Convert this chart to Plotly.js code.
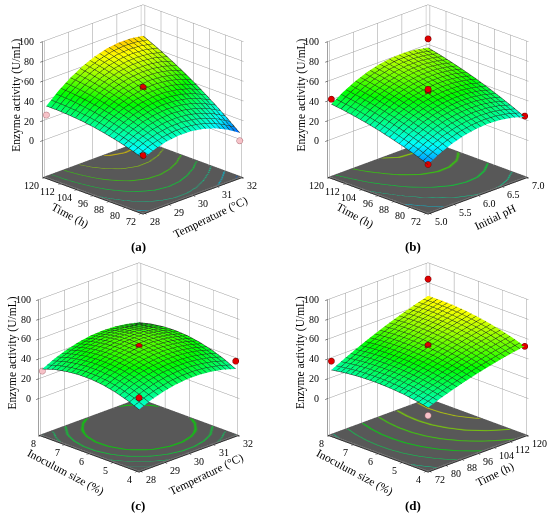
<!DOCTYPE html>
<html><head><meta charset="utf-8">
<script src="https://cdn.plot.ly/plotly-3.0.1.min.js"></script>
<style>html,body{margin:0;padding:0;background:#fff}#chart{width:550px;height:515px}</style>
</head><body><div id="chart"></div>
<script>
// ---------- data ----------
const tempGrid = [28, 28.5, 29, 29.5, 30, 30.5, 31, 31.5, 32];
const timeGrid = [72, 78, 84, 90, 96, 102, 108, 114, 120];
const phGrid = [5, 5.25, 5.5, 5.75, 6, 6.25, 6.5, 6.75, 7];
const inocGrid = [4, 4.5, 5, 5.5, 6, 6.5, 7, 7.5, 8];

// (a) rows = time, cols = temperature
const zA = [
 [18.0, 23.1, 26.5, 27.9, 27.6, 25.4, 21.5, 15.6, 8.0],
 [22.2, 28.0, 32.0, 34.2, 34.6, 33.1, 29.8, 24.7, 17.8],
 [25.8, 32.3, 37.0, 39.9, 41.0, 40.2, 37.6, 33.2, 27.0],
 [28.7, 36.0, 41.4, 45.0, 46.8, 46.7, 44.8, 41.1, 35.6],
 [31.2, 39.1, 45.2, 49.5, 52.0, 52.7, 51.5, 48.5, 43.7],
 [33.0, 41.6, 48.5, 53.5, 56.7, 58.0, 57.5, 55.2, 51.1],
 [34.2, 43.6, 51.1, 56.8, 60.7, 62.8, 63.0, 61.4, 58.0],
 [34.9, 45.0, 53.2, 59.6, 64.2, 67.0, 67.9, 67.0, 64.3],
 [35.0, 45.8, 54.7, 61.8, 67.1, 70.6, 72.2, 72.0, 70.0]
];
// (b) rows = time, cols = pH
const zB = [
 [12.0, 18.8, 24.0, 27.8, 30.0, 30.8, 30.0, 27.8, 24.0],
 [16.6, 23.4, 28.8, 32.7, 35.1, 36.0, 35.4, 33.3, 29.7],
 [20.7, 27.7, 33.3, 37.3, 39.8, 40.8, 40.4, 38.4, 34.9],
 [24.4, 31.6, 37.3, 41.4, 44.1, 45.3, 45.0, 43.1, 39.8],
 [27.8, 35.1, 40.9, 45.2, 48.0, 49.3, 49.1, 47.4, 44.3],
 [30.7, 38.1, 44.1, 48.5, 51.5, 52.9, 52.9, 51.4, 48.3],
 [33.2, 40.8, 46.9, 51.5, 54.6, 56.2, 56.3, 54.8, 51.9],
 [35.3, 43.0, 49.3, 54.0, 57.2, 59.0, 59.2, 57.9, 55.2],
 [37.0, 44.9, 51.3, 56.1, 59.5, 61.4, 61.8, 60.6, 58.0]
];
// (c) rows = inoculum, cols = temperature
const zC = [
 [25.0, 30.1, 33.9, 36.5, 37.8, 37.7, 36.4, 33.9, 30.0],
 [30.1, 35.3, 39.2, 41.9, 43.2, 43.3, 42.1, 39.6, 35.9],
 [33.9, 39.2, 43.3, 46.0, 47.4, 47.6, 46.5, 44.1, 40.4],
 [36.5, 41.9, 46.0, 48.8, 50.4, 50.6, 49.6, 47.3, 43.7],
 [37.8, 43.2, 47.4, 50.4, 52.0, 52.4, 51.4, 49.2, 45.8],
 [37.7, 43.3, 47.6, 50.6, 52.4, 52.8, 52.0, 49.9, 46.5],
 [36.4, 42.1, 46.5, 49.6, 51.4, 52.0, 51.3, 49.2, 45.9],
 [33.9, 39.6, 44.1, 47.3, 49.2, 49.9, 49.2, 47.3, 44.1],
 [30.0, 35.9, 40.4, 43.7, 45.8, 46.5, 45.9, 44.1, 41.0]
];
// (d) rows = inoculum, cols = time
const zD = [
 [27.0, 31.5, 35.6, 39.3, 42.8, 45.8, 48.6, 51.0, 53.0],
 [29.4, 34.1, 38.4, 42.4, 46.0, 49.3, 52.2, 54.8, 57.1],
 [31.3, 36.1, 40.6, 44.8, 48.6, 52.1, 55.3, 58.1, 60.5],
 [32.4, 37.5, 42.2, 46.6, 50.6, 54.3, 57.7, 60.7, 63.3],
 [33.0, 38.3, 43.2, 47.8, 52.0, 55.9, 59.4, 62.6, 65.5],
 [32.9, 38.4, 43.5, 48.3, 52.8, 56.9, 60.6, 64.0, 67.1],
 [32.3, 37.9, 43.3, 48.2, 52.9, 57.2, 61.1, 64.7, 68.0],
 [30.9, 36.8, 42.4, 47.5, 52.4, 56.9, 61.0, 64.9, 68.3],
 [29.0, 35.1, 40.8, 46.2, 51.3, 56.0, 60.3, 64.3, 68.0]
];

// design points: [x, y, z]
const ptsA_red  = [[28, 72, 21], [30, 96, 52], [30, 96, 54]];
const ptsA_pink = [[28, 120, 26], [32, 72, 0]];
const ptsB_red  = [[5, 72, 12], [5, 120, 42], [7, 72, 25], [7, 120, 67], [6, 96, 50], [6, 96, 52]];
const ptsB_pink = [];
const ptsC_red  = [[28, 4, 37], [32, 4, 38], [30, 6, 51], [30, 6, 53]];
const ptsC_pink = [[28, 8, 28]];
const ptsD_red  = [[72, 8, 38], [120, 4, 53], [120, 8, 85], [96, 6, 52], [96, 6, 54]];
const ptsD_pink = [[72, 4, 19]];

const tempTicks = [28, 29, 30, 31, 32];
const timeTicks = [72, 80, 88, 96, 104, 112, 120];
const phTicks = [5, 5.5, 6, 6.5, 7];
const phTickText = ['5.0', '5.5', '6.0', '6.5', '7.0'];
const inocTicks = [4, 5, 6, 7, 8];
const zTicks = [0, 20, 40, 60, 80, 100];
const levelsA = [10, 20, 30, 40, 50, 60, 70];
const levelsB = [20, 30, 40, 50, 60];
const levelsC = [30, 35, 40, 45];
const levelsD = [30, 37, 44, 51, 58, 65];

const zTitle = 'Enzyme activity (U/mL)';

// ---------- styling ----------
const W = 550, H = 515;
const FONT = 'Liberation Serif, Times New Roman, serif';
const CMIN = 0, CMAX = 90;
const ZMIN = -37, ZMAX = 100, FLOOR = -36.6;
const mainStops = [[0, [0, 0, 255]], [0.25, [0, 255, 255]], [0.5, [0, 255, 0]], [0.75, [255, 255, 0]], [1, [255, 0, 0]]];
const mainScale = mainStops.map(s => [s[0], 'rgb(' + s[1].join(',') + ')']);
function colorAt(t, k) {
  t = Math.max(0, Math.min(1, t));
  for (let i = 0; i < mainStops.length - 1; i++) {
    const a = mainStops[i], b = mainStops[i + 1];
    if (t <= b[0]) {
      const f = (t - a[0]) / (b[0] - a[0]);
      const c = a[1].map((v, j) => Math.round((v + (b[1][j] - v) * f) * k));
      return 'rgb(' + c.join(',') + ')';
    }
  }
  return 'rgb(255,0,0)';
}
const GRAY = 'rgb(88,88,88)';
function floorScale(levels, halfw) {
  const s = [[0, GRAY]];
  levels.forEach(L => {
    s.push([(L - halfw - CMIN) / (CMAX - CMIN), GRAY]);
    s.push([(L - CMIN) / (CMAX - CMIN), colorAt((L - CMIN) / (CMAX - CMIN), 0.85)]);
    s.push([(L + halfw - CMIN) / (CMAX - CMIN), GRAY]);
  });
  s.push([1, GRAY]);
  return s;
}
function pad(r) { const d = (r[1] - r[0]) * 0.02; return [r[0] - d, r[1] + d]; }

function axis(range, tickvals, bg) {
  return {
    title: {text: ''},
    range: range, autorange: false, tickvals: tickvals, showticklabels: false,
    showgrid: true, gridcolor: '#9a9a9a', gridwidth: 1,
    showbackground: true, backgroundcolor: bg || '#ffffff',
    showline: true, linecolor: '#000', linewidth: 1,
    ticks: 'outside', ticklen: 3, tickcolor: '#000',
    zeroline: false, showspikes: false
  };
}

const traces = [];
function panel(sceneId, xs, ys, zs, redPts, pinkPts, levels) {
  const xr = [xs[0], xs[xs.length - 1]], yr = [ys[0], ys[ys.length - 1]];
  traces.push({
    type: 'surface', scene: sceneId, x: xs, y: ys, z: zs,
    colorscale: mainScale, cmin: CMIN, cmax: CMAX, showscale: false,
    hoverinfo: 'skip',
    lighting: {ambient: 0.8, diffuse: 0.4, specular: 0.05, roughness: 0.9, fresnel: 0.1},
    contours: {
      x: {show: true, start: xr[0], end: xr[1], size: (xr[1] - xr[0]) / 20, color: '#203020', width: 1},
      y: {show: true, start: yr[0], end: yr[1], size: (yr[1] - yr[0]) / 20, color: '#203020', width: 1}
    }
  });
  traces.push({
    type: 'surface', scene: sceneId, x: xs, y: ys,
    z: zs.map(r => r.map(() => FLOOR)), surfacecolor: zs,
    colorscale: floorScale(levels, 0.45), cmin: CMIN, cmax: CMAX, showscale: false,
    hoverinfo: 'skip',
    lighting: {ambient: 1, diffuse: 0, specular: 0, roughness: 1, fresnel: 0}
  });
  [[redPts, '#e00000', '#700000'], [pinkPts, '#f6c2c8', '#b07078']].forEach(([p, c, lc]) => {
    if (!p.length) return;
    traces.push({
      type: 'scatter3d', mode: 'markers', scene: sceneId,
      x: p.map(q => q[0]), y: p.map(q => q[1]), z: p.map(q => q[2]),
      marker: {size: 3.6, color: c, line: {color: lc, width: 1}},
      hoverinfo: 'skip'
    });
  });
}
panel('scene', tempGrid, timeGrid, zA, ptsA_red, ptsA_pink, levelsA);
panel('scene2', phGrid, timeGrid, zB, ptsB_red, ptsB_pink, levelsB);
panel('scene3', tempGrid, inocGrid, zC, ptsC_red, ptsC_pink, levelsC);
panel('scene4', timeGrid, inocGrid, zD, ptsD_red, ptsD_pink, levelsD);

const tickFont = {family: FONT, size: 10, color: '#000'};
const titleFont = {family: FONT, size: 11.5, color: '#000'};
function sceneAnn(xr, yr, xt, xtt, yt, ytt, xTitle, yTitle) {
  const a = [];
  xt.forEach((v, i) => a.push({x: v, y: yr[0], z: ZMIN, text: xtt ? xtt[i] : String(v), showarrow: false,
    xanchor: 'left', yanchor: 'top', xshift: 3, yshift: 0, font: tickFont}));
  yt.forEach((v, i) => a.push({x: xr[0], y: v, z: ZMIN, text: ytt ? ytt[i] : String(v), showarrow: false,
    xanchor: 'right', yanchor: 'top', xshift: -3, yshift: 0, font: tickFont}));
  zTicks.forEach(v => a.push({x: xr[0], y: yr[1], z: v, text: String(v), showarrow: false,
    xanchor: 'right', yanchor: 'middle', xshift: -6, font: tickFont}));
  a.push({x: (xr[0] + xr[1]) / 2, y: yr[0], z: ZMIN, text: xTitle, showarrow: false, textangle: -26,
    xanchor: 'center', yanchor: 'middle', xshift: 17, yshift: -21, font: titleFont});
  a.push({x: xr[0], y: (yr[0] + yr[1]) / 2, z: ZMIN, text: yTitle, showarrow: false, textangle: 28,
    xanchor: 'center', yanchor: 'middle', xshift: -23, yshift: -19, font: titleFont});
  a.push({x: xr[0], y: yr[1], z: 46, text: zTitle, showarrow: false, textangle: -90,
    xanchor: 'center', yanchor: 'middle', xshift: -26, font: titleFont});
  return a;
}

function scene(dx, dy, xRange, yRange, xt, xtt, yt, ytt, xTitle, yTitle) {
  const xr = pad(xRange), yr = pad(yRange);
  return {
    domain: {x: dx, y: dy},
    xaxis: axis(xr, xt), yaxis: axis(yr, yt),
    zaxis: axis([ZMIN, ZMAX], zTicks, GRAY),
    aspectmode: 'manual', aspectratio: {x: 1.19, y: 1.19, z: 1.22},
    camera: {eye: {x: -1.993, y: -1.993, z: 1.026}, center: {x: 0, y: 0, z: -0.09}, up: {x: 0, y: 0, z: 1},
             projection: {type: 'orthographic'}},
    bgcolor: '#ffffff',
    annotations: sceneAnn(xr, yr, xt, xtt, yt, ytt, xTitle, yTitle)
  };
}
const panelLabels = [['(a)', 138, 247], ['(b)', 413, 247], ['(c)', 138, 505], ['(d)', 413, 505]];
const layout = {
  width: W, height: H, margin: {l: 0, r: 0, t: 0, b: 0},
  paper_bgcolor: '#ffffff', showlegend: false, hovermode: false,
  scene: scene([0.02, 0.5], [0.535, 1], [28, 32], [72, 120], tempTicks, null, timeTicks, null, 'Temperature (°C)', 'Time (h)'),
  scene2: scene([0.556, 1], [0.535, 1], [5, 7], [72, 120], phTicks, phTickText, timeTicks, null, 'Initial pH', 'Time (h)'),
  scene3: scene([0.006, 0.5], [0.035, 0.5], [28, 32], [4, 8], tempTicks, null, inocTicks, null, 'Temperature (°C)', 'Inoculum size (%)'),
  scene4: scene([0.556, 1], [0.035, 0.5], [72, 120], [4, 8], timeTicks, null, inocTicks, null, 'Time (h)', 'Inoculum size (%)'),
  annotations: panelLabels.map(a => ({
    text: '<b>' + a[0] + '</b>', x: a[1] / W, y: 1 - a[2] / H, xref: 'paper', yref: 'paper',
    showarrow: false, xanchor: 'center', yanchor: 'middle', font: {family: FONT, size: 13, color: '#000'}
  }))
};
Plotly.newPlot('chart', traces, layout, {displayModeBar: false});
</script>
</body></html>
